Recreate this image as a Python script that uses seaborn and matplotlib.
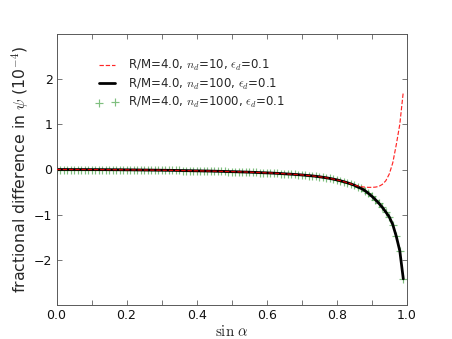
#! /usr/bin/env python3
"""Fractional difference in psi vs sin(alpha) for three disc resolutions."""

import matplotlib
matplotlib.use("Agg")
import matplotlib.pyplot as plt
from matplotlib.ticker import MultipleLocator
import seaborn as sns

# sin(alpha) sample points, 0.00 ... 0.99
sin_alpha = [i / 100 for i in range(100)]

# n_d = 100 (black solid line), units of 1e-4
psi_n100 = [
    0.000, -0.000, -0.000, -0.000, -0.001, -0.001, -0.001, -0.001, -0.001, -0.002,
    -0.002, -0.002, -0.002, -0.003, -0.003, -0.004, -0.004, -0.005, -0.005, -0.006,
    -0.007, -0.007, -0.008, -0.009, -0.010, -0.011, -0.012, -0.013, -0.014, -0.015,
    -0.016, -0.017, -0.018, -0.019, -0.020, -0.022, -0.023, -0.024, -0.026, -0.027,
    -0.029, -0.030, -0.032, -0.033, -0.035, -0.037, -0.039, -0.041, -0.043, -0.045,
    -0.047, -0.049, -0.051, -0.054, -0.056, -0.059, -0.062, -0.065, -0.068, -0.071,
    -0.074, -0.077, -0.081, -0.085, -0.089, -0.094, -0.099, -0.104, -0.109, -0.114,
    -0.120, -0.127, -0.134, -0.141, -0.150, -0.160, -0.171, -0.183, -0.197, -0.212,
    -0.229, -0.248, -0.269, -0.292, -0.318, -0.347, -0.385, -0.420, -0.465, -0.525,
    -0.590, -0.665, -0.745, -0.835, -0.940, -1.050, -1.220, -1.480, -1.800, -2.420,
]

# n_d = 1000 (green crosses), practically on top of n_d = 100
psi_n1000 = [
    0.000, -0.000, -0.000, -0.000, -0.001, -0.001, -0.001, -0.001, -0.001, -0.002,
    -0.002, -0.002, -0.002, -0.003, -0.003, -0.004, -0.004, -0.005, -0.005, -0.006,
    -0.007, -0.007, -0.008, -0.009, -0.010, -0.011, -0.012, -0.013, -0.014, -0.015,
    -0.016, -0.017, -0.018, -0.019, -0.020, -0.022, -0.023, -0.024, -0.026, -0.027,
    -0.029, -0.030, -0.032, -0.033, -0.035, -0.037, -0.039, -0.041, -0.043, -0.045,
    -0.047, -0.049, -0.051, -0.054, -0.056, -0.059, -0.062, -0.065, -0.068, -0.071,
    -0.074, -0.077, -0.081, -0.085, -0.089, -0.094, -0.099, -0.104, -0.109, -0.114,
    -0.120, -0.127, -0.134, -0.141, -0.150, -0.160, -0.171, -0.183, -0.197, -0.212,
    -0.229, -0.248, -0.269, -0.292, -0.318, -0.347, -0.385, -0.420, -0.465, -0.525,
    -0.590, -0.665, -0.745, -0.835, -0.940, -1.050, -1.220, -1.480, -1.800, -2.420,
]

# n_d = 10 (red dashed), turns up near sin(alpha) = 0.9
psi_n10 = [
    0.000, -0.000, -0.000, -0.000, -0.001, -0.001, -0.001, -0.001, -0.001, -0.002,
    -0.002, -0.002, -0.002, -0.003, -0.003, -0.004, -0.004, -0.005, -0.005, -0.006,
    -0.007, -0.007, -0.008, -0.009, -0.010, -0.011, -0.012, -0.013, -0.014, -0.015,
    -0.016, -0.017, -0.018, -0.019, -0.020, -0.022, -0.023, -0.024, -0.026, -0.027,
    -0.029, -0.030, -0.032, -0.033, -0.035, -0.037, -0.039, -0.041, -0.043, -0.045,
    -0.047, -0.049, -0.051, -0.054, -0.056, -0.059, -0.062, -0.065, -0.068, -0.071,
    -0.074, -0.077, -0.081, -0.085, -0.089, -0.094, -0.099, -0.104, -0.109, -0.114,
    -0.120, -0.127, -0.134, -0.141, -0.150, -0.160, -0.171, -0.183, -0.197, -0.212,
    -0.229, -0.248, -0.269, -0.292, -0.318, -0.345, -0.365, -0.380, -0.390, -0.395,
    -0.395, -0.390, -0.375, -0.330, -0.250, -0.100, 0.150, 0.550, 1.000, 1.720,
]

labels = [
    r"R/M=4.0, $n_d$=10, $\epsilon_d$=0.1",
    r"R/M=4.0, $n_d$=100, $\epsilon_d$=0.1",
    r"R/M=4.0, $n_d$=1000, $\epsilon_d$=0.1",
]

sns.set_style("ticks")
plt.rcParams["font.family"] = ["DejaVu Sans"]
plt.rcParams["mathtext.fontset"] = "cm"
plt.rcParams["xtick.direction"] = "in"
plt.rcParams["ytick.direction"] = "in"

fig, ax = plt.subplots(figsize=(8, 6), dpi=56.5)
fig.subplots_adjust(left=0.125, right=0.9, bottom=0.1, top=0.9)

sns.lineplot(x=sin_alpha, y=psi_n10, ax=ax, color="red", alpha=0.85,
             linestyle="--", linewidth=1.5, label=labels[0], zorder=3)
sns.lineplot(x=sin_alpha, y=psi_n100, ax=ax, color="black",
             linewidth=3.5, label=labels[1], zorder=2)
sns.scatterplot(x=sin_alpha, y=psi_n1000, ax=ax, color="green", alpha=0.5,
                marker="+", s=110, linewidth=1.5, label=labels[2], zorder=1)

ax.set_xlim(0, 1)
ax.set_ylim(-3, 3)
ax.xaxis.set_major_locator(MultipleLocator(0.2))
ax.xaxis.set_minor_locator(MultipleLocator(0.1))
ax.set_yticks([-2, -1, 0, 1, 2])
ax.tick_params(which="both", top=True, right=True, length=6, width=1,
               color="#555555", labelsize=16, labelcolor="#111111", pad=5)

for spine in ax.spines.values():
    spine.set_color("#555555")
    spine.set_linewidth(1.2)

ax.set_xlabel(r"$\sin\,\alpha$", fontsize=19, labelpad=2)
ax.set_ylabel(r"fractional difference in $\psi$ (10$^{-4}$)", fontsize=20,
              labelpad=4)

ax.legend(loc="upper left", frameon=False, numpoints=2, scatterpoints=2,
          fontsize=15, bbox_to_anchor=(0.08, 0.95), handlelength=2.0,
          handletextpad=0.8, labelspacing=0.3)

fig.savefig("out.png", dpi=56.5)
plt.close(fig)
